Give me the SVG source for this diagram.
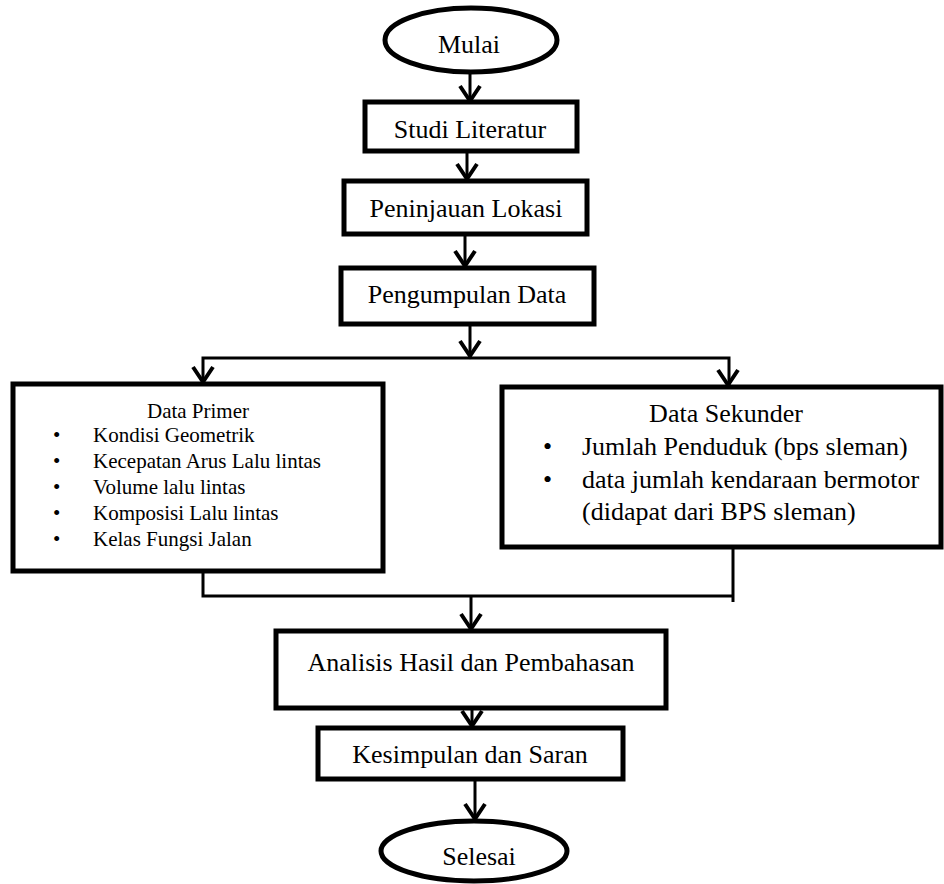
<svg xmlns="http://www.w3.org/2000/svg" width="944" height="884" viewBox="0 0 944 884">
<defs>
<style>
.box{fill:#fff;stroke:#000;stroke-width:5}
.term{fill:#fff;stroke:#000;stroke-width:5}
.ln{fill:none;stroke:#000;stroke-width:3}
.ah{fill:none;stroke:#000;stroke-width:4}
.t{font-size:26px;fill:#000}
.s{font-size:21px;fill:#000}
.c{text-anchor:middle}
</style>
</defs>
<rect width="944" height="884" fill="#fff"/>
<g id="connectors">
<path class="ln" d="M470 72 V102"/>
<path class="ah" d="M460 86 L470 101 L480 86"/>
<path class="ln" d="M467 152 V180"/>
<path class="ah" d="M457 164 L467 179 L477 164"/>
<path class="ln" d="M465 235 V267"/>
<path class="ah" d="M455 251 L465 266 L475 251"/>
<path class="ln" d="M470 325 V357"/>
<path class="ah" d="M460 341 L470 356 L480 341"/>
<path class="ln" d="M203 385 V358 H729 V387"/>
<path class="ah" d="M193 367 L203 382 L213 367"/>
<path class="ah" d="M718 370 L728 385 L738 370"/>
<path class="ln" d="M203 572 V596 H733"/>
<path class="ln" d="M733 548 V602"/>
<path class="ln" d="M471 596 V630"/>
<path class="ah" d="M461 614 L471 629 L481 614"/>
<path class="ln" d="M472 709 V727"/>
<path class="ah" d="M462 711 L472 726 L482 711"/>
<path class="ln" d="M475 780 V820"/>
<path class="ah" d="M465 804 L475 819 L485 804"/>
</g>
<g font-family="Liberation Serif, Times New Roman, DejaVu Serif, serif">
<g id="mulai">
<ellipse class="term" cx="471" cy="40" rx="86" ry="32"/>
<text class="t c" x="469" y="53">Mulai</text>
</g>
<g id="studi">
<rect class="box" x="365" y="102" width="212" height="49"/>
<text class="t c" x="470" y="138">Studi Literatur</text>
</g>
<g id="peninjauan">
<rect class="box" x="344" y="181" width="243" height="53"/>
<text class="t c" x="466" y="217">Peninjauan Lokasi</text>
</g>
<g id="pengumpulan">
<rect class="box" x="341" y="268" width="253" height="56"/>
<text class="t c" x="467" y="303">Pengumpulan Data</text>
</g>
<g id="primer">
<rect class="box" x="13" y="384" width="370" height="187"/>
<text class="s c" x="198" y="418">Data Primer</text>
<g class="s">
<text x="53" y="442">•</text><text x="93" y="442">Kondisi Geometrik</text>
<text x="53" y="468">•</text><text x="93" y="468">Kecepatan Arus Lalu lintas</text>
<text x="53" y="494">•</text><text x="93" y="494">Volume lalu lintas</text>
<text x="53" y="520">•</text><text x="93" y="520">Komposisi Lalu lintas</text>
<text x="53" y="546">•</text><text x="93" y="546">Kelas Fungsi Jalan</text>
</g>
</g>
<g id="sekunder">
<rect class="box" x="502" y="387" width="439" height="160"/>
<text class="t c" x="726" y="422">Data Sekunder</text>
<text class="t" x="543" y="455">•</text><text class="t" x="582" y="455">Jumlah Penduduk (bps sleman)</text>
<text class="t" x="543" y="488">•</text><text class="t" x="582" y="488">data jumlah kendaraan bermotor</text>
<text class="t" x="582" y="520">(didapat dari BPS sleman)</text>
</g>
<g id="analisis">
<rect class="box" x="276" y="631" width="390" height="77"/>
<text class="t c" x="471" y="671">Analisis Hasil dan Pembahasan</text>
</g>
<g id="kesimpulan">
<rect class="box" x="318" y="728" width="305" height="51"/>
<text class="t c" x="470" y="763">Kesimpulan dan Saran</text>
</g>
<g id="selesai">
<ellipse class="term" cx="474" cy="851" rx="93" ry="30"/>
<text class="t c" x="479" y="865">Selesai</text>
</g>
</g>
</svg>
